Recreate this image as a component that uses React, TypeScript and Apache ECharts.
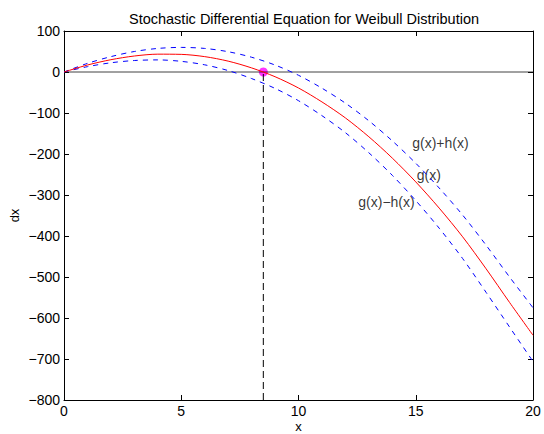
import React, { useEffect, useRef } from "react";
import * as echarts from "echarts";

// x sample positions
const xs = [0, 1, 2, 3, 4, 5, 6, 7, 8, 9, 10, 11, 12, 13, 14, 15, 16, 17, 18, 19, 20];
// g(x)
const gVals = [0, 17, 30, 39, 43.5, 43, 37.5, 26.5, 10, -11.5, -39, -73, -112, -158, -210, -268, -332, -402, -480, -562, -642];
// g(x)+h(x)
const upperVals = [0, 21, 37.5, 50, 57.5, 60, 57.5, 49.5, 36, 17, -8, -39.5, -76, -119, -168, -222.5, -283, -349, -422.5, -500, -575];
// g(x)-h(x)
const lowerVals = [0, 13, 22.5, 28, 29.5, 26, 17.5, 3.5, -16, -40, -70, -106.5, -148, -197, -252, -313.5, -381, -455, -537.5, -622, -706];
// root (equilibrium point)
const rootX = 8.5;
const rootY = 0;
// axis ranges / ticks
const xMin = 0, xMax = 20, xStep = 5;
const yMin = -800, yMax = 100, yStep = 100;
// annotations: [x, y, text]
const annotations: [number, number, string][] = [
  [14.85, -172, "g(x)+h(x)"],
  [15.04, -252, "g(x)"],
  [12.55, -317, "g(x)\u2212h(x)"],
];

const FONT = "'Liberation Sans', Arial, Helvetica, sans-serif";

function pairs(vals: number[]) {
  return xs.map((x, i) => [x, vals[i]]);
}

export default function App() {
  const ref = useRef<HTMLDivElement>(null);
  useEffect(() => {
    if (!ref.current) return;
    const chart = echarts.init(ref.current, null, { renderer: "svg" });
    const fmt = (v: number) => (v < 0 ? "\u2212" + Math.abs(v) : String(v));
    const axisLine = { show: true, onZero: false, lineStyle: { color: "#000", width: 1 } };
    const tick = { show: true, inside: true, length: 5, lineStyle: { color: "#000", width: 1 } };
    chart.setOption({
      animation: false,
      backgroundColor: "#fff",
      title: {
        text: "Stochastic Differential Equation for Weibull Distribution",
        left: 299,
        textAlign: "center",
        top: 6,
        textStyle: { fontFamily: FONT, fontSize: 14.5, fontWeight: "normal", color: "#000" },
      },
      grid: { left: 64, right: 11, top: 31, bottom: 34, containLabel: false, outerBoundsMode: "none" },
      xAxis: [
        {
          type: "value", min: xMin, max: xMax, interval: xStep, position: "bottom",
          name: "x", nameLocation: "middle", nameGap: 20, nameMoveOverlap: false,
          nameTextStyle: { fontFamily: FONT, fontSize: 13, lineHeight: 12, color: "#000" },
          axisLine, axisTick: tick, splitLine: { show: false },
          axisLabel: { margin: 4, fontFamily: FONT, fontSize: 14, lineHeight: 14, color: "#000", formatter: fmt },
        },
        {
          type: "value", min: xMin, max: xMax, interval: xStep, position: "top",
          axisLine, axisTick: tick, splitLine: { show: false }, axisLabel: { show: false },
        },
      ],
      yAxis: [
        {
          type: "value", min: yMin, max: yMax, interval: yStep, position: "left",
          name: "dx", nameLocation: "middle", nameGap: 43, nameMoveOverlap: false,
          nameTextStyle: { fontFamily: FONT, fontSize: 13, color: "#000" },
          axisLine, axisTick: tick, splitLine: { show: false },
          axisLabel: { margin: 4, fontFamily: FONT, fontSize: 14, color: "#000", formatter: fmt },
        },
        {
          type: "value", min: yMin, max: yMax, interval: yStep, position: "right",
          axisLine, axisTick: tick, splitLine: { show: false }, axisLabel: { show: false },
        },
      ],
      series: [
        {
          type: "line", data: [[xMin, 0], [xMax, 0]], symbol: "none", silent: true,
          lineStyle: { color: "#111", width: 0.8 },
        },
        {
          type: "line", data: [[rootX, yMin], [rootX, rootY]], symbol: "none", silent: true,
          lineStyle: { color: "#000", width: 1, type: [7, 4] },
        },
        {
          type: "line", data: pairs(upperVals), symbol: "none", smooth: 0.3,
          lineStyle: { color: "#0000ff", width: 1, type: [5, 5] },
        },
        {
          type: "line", data: pairs(lowerVals), symbol: "none", smooth: 0.3,
          lineStyle: { color: "#0000ff", width: 1, type: [5, 5] },
        },
        {
          type: "line", data: pairs(gVals), symbol: "none", smooth: 0.3,
          lineStyle: { color: "#ff0000", width: 1 },
        },
        {
          type: "scatter", data: [[rootX, rootY]], symbolSize: 9,
          itemStyle: { color: "#ff00ff" },
        },
        {
          type: "scatter", symbolSize: 0, silent: true,
          data: annotations.map(([x, y, t]) => ({ value: [x, y], name: t })),
          label: {
            show: true, position: "right", distance: 0, formatter: "{b}",
            fontFamily: FONT, fontSize: 14, color: "#000",
          },
        },
      ],
    });
    return () => chart.dispose();
  }, []);
  return (
    <div
      ref={ref}
      style={{ position: "fixed", left: 0, top: 0, width: 544, height: 434, background: "#fff" }}
    />
  );
}
